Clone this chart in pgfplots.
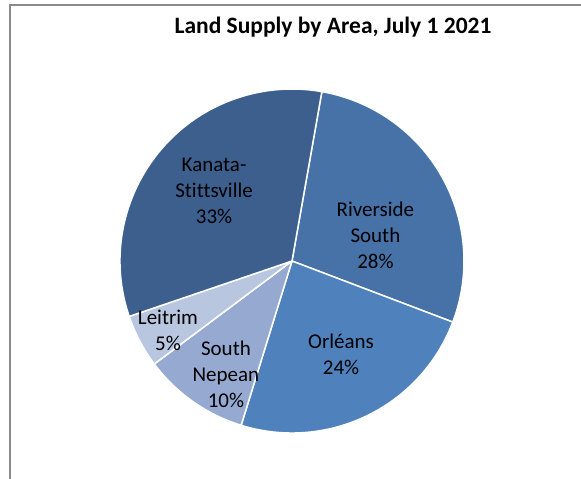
\documentclass[border=0pt]{standalone}
\usepackage{pgfplots}
\pgfplotsset{compat=1.18}
\usepackage{fontspec}
\setmainfont{Carlito}[Ligatures=NoCommon]

\definecolor{cRS}{HTML}{4672A7}
\definecolor{cOR}{HTML}{4F81BD}
\definecolor{cSN}{HTML}{95A9D1}
\definecolor{cLE}{HTML}{B9C6E0}
\definecolor{cKS}{HTML}{3C5F8E}
\definecolor{frame}{HTML}{8A8A8A}

\begin{document}
\begin{tikzpicture}
\useasboundingbox (0,0) rectangle (581pt,-479pt);
% chart frame (only top and left edges visible)
\draw[frame, line width=1.6pt] (10pt,-479pt) -- (10pt,-5pt) -- (581pt,-5pt);
\node[font=\fontsize{23.5}{28}\selectfont\bfseries, anchor=base] at (333pt,-33pt) {Land Supply by Area, July 1 2021};

\begin{axis}[
    hide axis,
    x=172pt, y=172pt,
    xmin=-1, xmax=1, ymin=-1, ymax=1,
    at={(292pt,-261pt)}, anchor=center,
    clip=false,
  ]
  \pgfmathsetmacro\start{80}
  % value / colour, slices drawn clockwise from 80 degrees
  \foreach \val/\col in {28/cRS, 24/cOR, 10/cSN, 5/cLE, 33/cKS} {
    \pgfmathsetmacro\stop{\start-3.6*\val}
    \edef\temp{%
      \noexpand\fill[\col, draw=white, line width=1.5pt, line join=round]
        (axis cs:0,0) -- (axis cs:{cos(\start)},{sin(\start)})
        arc[start angle=\start, end angle=\stop, radius=1] -- cycle;
    }
    \temp
    \global\let\start\stop
  }
  % value / label x / label y / name
  \foreach \val/\lx/\ly/\txt in {
      28/0.485/0.151/{Riverside\\South},
      24/0.285/-0.544/{Orléans},
      10/-0.384/-0.660/{South\\Nepean},
      5/-0.721/-0.404/{Leitrim},
      33/-0.453/0.407/{Kanata-\\Stittsville}} {
    \edef\temp{%
      \noexpand\node[align=center, font=\noexpand\fontsize{21}{26}\noexpand\selectfont, text=black]
        at (axis cs:\lx,\ly) {\unexpanded\expandafter{\txt}\noexpand\\\val\noexpand\%};
    }
    \temp
  }
\end{axis}
\end{tikzpicture}
\end{document}
